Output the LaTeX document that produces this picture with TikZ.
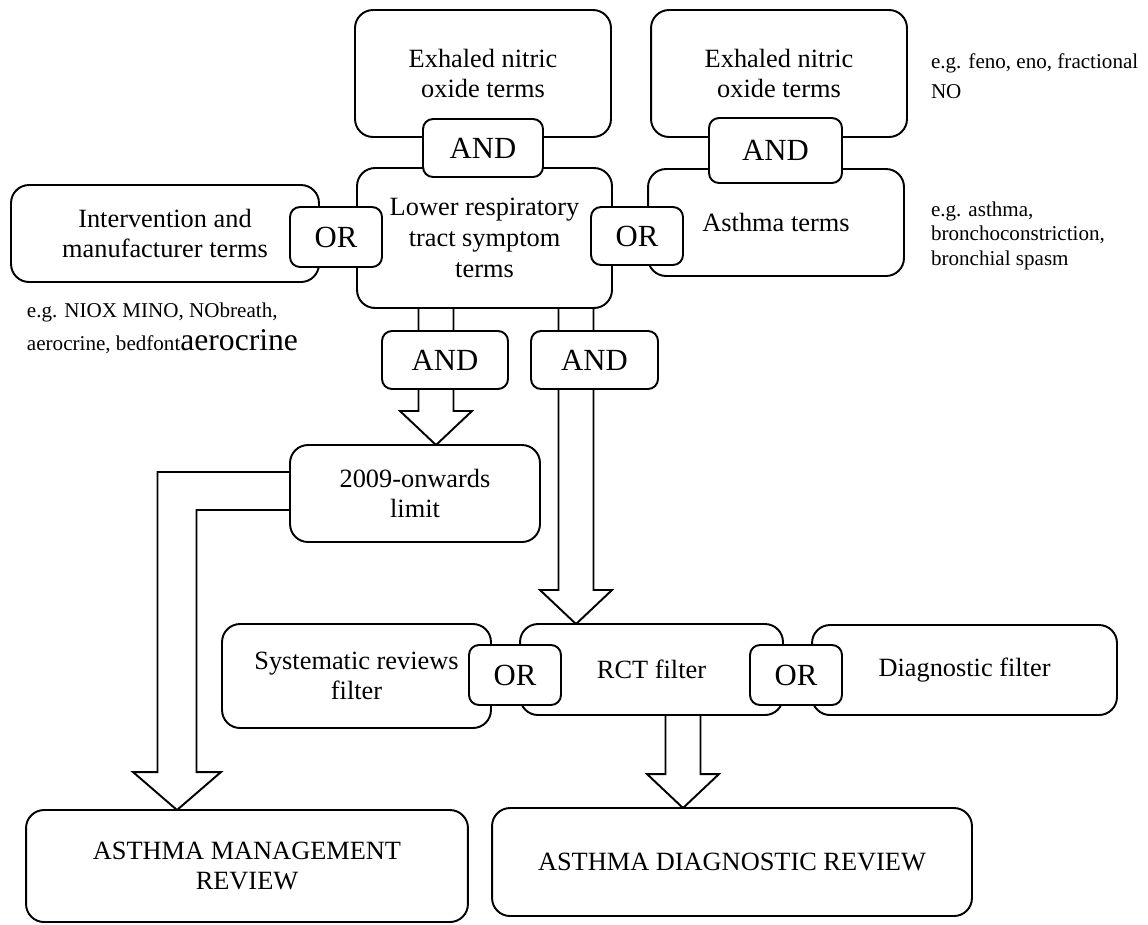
\documentclass[tikz,border=0pt]{standalone}
\usepackage{fontspec}
\setmainfont{Liberation Serif}
\usepackage{tikz}
\usetikzlibrary{calc, backgrounds}

% hollow block arrow pointing down: #1 column coordinate, #2 start anchor, #3 tip anchor
\newcommand{\fatdown}[3]{%
  \draw[fatarrow] let \p1=(#1 |- #2), \p2=(#1 |- #3) in
    (\x1-0.35cm,\y1+0.3cm) -- (\x1-0.35cm,\y2+0.68cm) -- (\x1-0.72cm,\y2+0.68cm) -- (\x2,\y2)
    -- (\x1+0.72cm,\y2+0.68cm) -- (\x1+0.35cm,\y2+0.68cm) -- (\x1+0.35cm,\y1+0.3cm);}

\begin{document}
\begin{tikzpicture}[
  x=0.02cm, y=-0.02cm,
  every node/.style={inner sep=0pt, outer sep=0pt},
  termbox/.style={draw, line width=1.1pt, fill=white, rounded corners=0.36cm, align=center, font=\fontsize{15}{17.5}\selectfont},
  gate/.style={draw, line width=1.1pt, fill=white, rounded corners=0.2cm, minimum width=1.84cm, minimum height=1.2cm, font=\fontsize{17.5}{20}\selectfont},
  note/.style={align=left, anchor=north west, font=\fontsize{12}{13.8}\selectfont},
  fatarrow/.style={draw, line width=1.1pt, line join=miter}
]
\useasboundingbox (0,0) rectangle (1148,924);

% search term blocks
\node[termbox, minimum width=5.12cm, minimum height=2.54cm] (enoA) at (483,73.5) {Exhaled nitric\\oxide terms};
\node[termbox, minimum width=5.10cm, minimum height=2.80cm] (lrt) at (484.5,238) {Lower respiratory\\tract symptom\\terms};
\node[termbox, minimum width=6.16cm, minimum height=1.94cm] (interv) at (165,233.5) {Intervention and\\manufacturer terms};
\node[termbox, minimum width=5.12cm, minimum height=2.54cm] (enoB) at (779,73.5) {Exhaled nitric\\oxide terms};
\node[termbox, minimum width=5.12cm, minimum height=2.14cm] (asth) at (776,222.5) {Asthma terms};
\node[termbox, minimum width=5.00cm, minimum height=1.94cm] (lim) at (415,493.5) {2009-onwards\\limit};

% filters
\node[termbox, minimum width=5.38cm, minimum height=2.08cm] (sysr) at (356.5,676) {Systematic reviews\\filter};
\node[termbox, minimum width=5.26cm, minimum height=1.82cm] (rct) at (651.5,669.5) {RCT filter};
\node[termbox, minimum width=6.10cm, minimum height=1.80cm] (diag) at (964.5,670) {Diagnostic filter};

% reviews
\node[termbox, minimum width=8.84cm, minimum height=2.24cm] (amr) at (247,866) {ASTHMA MANAGEMENT\\REVIEW};
\node[termbox, minimum width=9.60cm, minimum height=2.16cm] (adr) at (732,862) {ASTHMA DIAGNOSTIC REVIEW};

% boolean gates
\node[gate, minimum width=2.40cm, minimum height=1.16cm] (andA) at (483,148) {AND};
\node[gate] (orA) at (336,237) {OR};
\node[gate, minimum width=2.66cm, minimum height=1.30cm] (andB) at (775.5,150.5) {AND};
\node[gate, minimum height=1.16cm] (orB) at (637,236) {OR};
\node[gate, minimum width=2.52cm, minimum height=1.16cm] (andC) at (445,360) {AND};
\node[gate, minimum width=2.54cm, minimum height=1.16cm] (andD) at (594.5,360) {AND};
\node[gate] (orC) at (515,675) {OR};
\node[gate] (orD) at (796,675) {OR};

% examples
\node[note] (noteNO) at (931,54) {e.g. feno, eno, fractional\\[3pt]NO};
\node[note] (noteAs) at (931,202) {e.g. asthma,\\bronchoconstriction,\\bronchial spasm};
\node[note] (noteIn) at (27,303) {e.g. NIOX MINO, NObreath,\\[3pt]aerocrine, bedfont{\fontsize{18}{20}\selectfont aerocrine}};

% arrow columns
\coordinate (colA) at (436,0);
\coordinate (colB) at (177,0);
\coordinate (colC) at (576,0);
\coordinate (colD) at (683,0);

\begin{pgfonlayer}{background}
\fatdown{colA}{lrt.south}{lim.north}
\fatdown{colC}{lrt.south}{rct.north}
\fatdown{colD}{rct.south}{adr.north}
\draw[fatarrow] let \p1=(lim.west), \p2=(colB |- amr.north) in
  (\x1+0.3cm,\y1+0.43cm) -- (\x2-0.39cm,\y1+0.43cm) -- (\x2-0.39cm,\y2+0.76cm) -- (\x2-0.88cm,\y2+0.76cm)
  -- (\x2,\y2) -- (\x2+0.88cm,\y2+0.76cm) -- (\x2+0.39cm,\y2+0.76cm) -- (\x2+0.39cm,\y1-0.33cm) -- (\x1+0.3cm,\y1-0.33cm);
\end{pgfonlayer}
\end{tikzpicture}
\end{document}
